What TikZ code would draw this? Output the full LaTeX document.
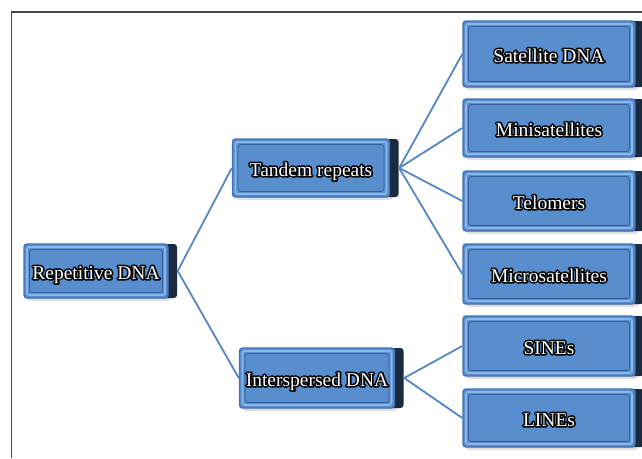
\documentclass[tikz,border=0pt]{standalone}
\usepackage{fontspec}
\setmainfont{Liberation Serif}
\usetikzlibrary{shadows}

\definecolor{boxblue}{RGB}{88,142,206}
\definecolor{rimblue}{RGB}{66,114,182}
\definecolor{lightrim}{RGB}{140,184,232}
\definecolor{innerline}{RGB}{52,94,156}
\definecolor{sidenavy}{RGB}{28,42,64}
\definecolor{linkblue}{RGB}{84,134,198}
\definecolor{framegray}{RGB}{70,70,70}

% white text with a black outline: a stroked copy under the filled one
\newcommand\outlined[1]{\leavevmode\rlap{\special{pdf:code q 1 Tr 3.2 w 1 j 0 0 0 RG}#1\special{pdf:code Q}}#1}

\tikzset{
  dnabox/.style={rectangle, rounded corners=3pt, fill=boxblue, draw=rimblue,
    line width=1.4pt, text=white, font=\fontsize{19.5}{22}\selectfont,
    minimum height=#1, text height=16pt, text depth=0pt,
    drop shadow={shadow xshift=3pt, shadow yshift=-3pt, opacity=0.25},
    general shadow={fill=sidenavy, shadow xshift=9pt},
    path picture={
      \draw[lightrim, line width=1.6pt, rounded corners=2pt]
        ([shift={(3pt,-3pt)}]path picture bounding box.north west) rectangle
        ([shift={(-3pt,3pt)}]path picture bounding box.south east);
      \draw[innerline, line width=0.8pt]
        ([shift={(5.5pt,-5.5pt)}]path picture bounding box.north west) rectangle
        ([shift={(-5.5pt,5.5pt)}]path picture bounding box.south east);
    }},
  dnabox/.default=58pt,
  leafbox/.style={dnabox=#1, minimum width=172pt},
  leafbox/.default=60pt,
  link/.style={linkblue, line width=1.8pt}
}

\begin{document}
\begin{tikzpicture}[x=1pt, y=-1pt]

    \useasboundingbox (0,0) rectangle (642,458);

    % Frame
    \draw[framegray, line width=1.2pt] (11.5,458) -- (11.5,12) -- (642,12);

    % Root and branches
    \node[dnabox=54pt, minimum width=144pt] (rep) at (96,271) {\outlined{Repetitive DNA}};
    \node[dnabox=58pt, minimum width=157pt] (tandem) at (311,168) {\outlined{Tandem repeats}};
    \node[dnabox=60pt, minimum width=155pt] (inter) at (317,378) {\outlined{Interspersed DNA}};

    % Leaves
    \node[leafbox=66pt] (satellite) at (549,54) {\outlined{Satellite DNA}};
    \node[leafbox=58pt] (mini) at (549,128) {\outlined{Minisatellites}};
    \node[leafbox] (telomers) at (549,201) {\outlined{Telomers}};
    \node[leafbox] (micro) at (549,274) {\outlined{Microsatellites}};
    \node[leafbox] (sines) at (549,346) {\outlined{SINEs}};
    \node[leafbox=58pt] (lines) at (549,418) {\outlined{LINEs}};

    % Connectors
    \draw[link] ([xshift=9pt]rep.east) -- (tandem.west);
    \draw[link] ([xshift=9pt]rep.east) -- (inter.west);
    \foreach \leaf in {satellite,mini,telomers,micro}
      \draw[link] ([xshift=9pt]tandem.east) -- (\leaf.west);
    \foreach \leaf in {sines,lines}
      \draw[link] ([xshift=9pt]inter.east) -- (\leaf.west);

\end{tikzpicture}
\end{document}
